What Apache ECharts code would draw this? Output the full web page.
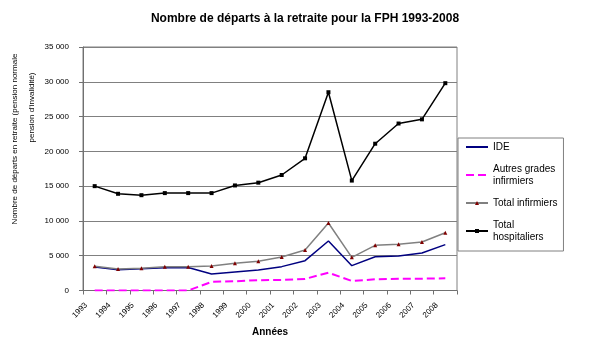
<!DOCTYPE html>
<html>
<head>
<meta charset="utf-8">
<script src="https://cdn.jsdelivr.net/npm/echarts@6/dist/echarts.min.js"></script>
<style>
  html, body { margin: 0; padding: 0; background: #ffffff; }
  #chart { width: 604px; height: 357px; }
</style>
</head>
<body>
<div id="chart"></div>
<script>
// ---- Data ----
var years = ['1993','1994','1995','1996','1997','1998','1999','2000','2001','2002','2003','2004','2005','2006','2007','2008'];
var ide = [3380, 2990, 3140, 3280, 3300, 2380, 2670, 2950, 3430, 4290, 7110, 3570, 4860, 4960, 5390, 6590];
var autresGrades = [0, 0, 0, 0, 0, 1240, 1330, 1480, 1520, 1670, 2560, 1370, 1610, 1700, 1700, 1750];
var totalInfirmiers = [3470, 3090, 3190, 3420, 3430, 3520, 3900, 4190, 4810, 5810, 9700, 4770, 6490, 6640, 6970, 8310];
var totalHospitaliers = [15000, 13900, 13700, 14000, 14000, 14000, 15100, 15500, 16600, 19000, 28500, 15800, 21100, 24000, 24600, 29800];
var seriesNames = ['IDE', 'Autres grades infirmiers', 'Total infirmiers', 'Total hospitaliers'];
var legendLabels = ['IDE', 'Autres grades\ninfirmiers', 'Total infirmiers', 'Total\nhospitaliers'];
var yMin = 0, yMax = 35000, yStep = 5000;
var titleText = 'Nombre de départs à la retraite pour la FPH 1993-2008';
var yTitleLine1 = 'Nombre de départs en retraite (pension normale';
var yTitleLine2 = "pension d'invalidité)";
var xTitle = 'Années';

var FONT = '"Liberation Sans", Arial, sans-serif';

function fmtThousands(v) {
  return String(v).replace(/\B(?=(\d{3})+(?!\d))/g, ' ');
}

var chart = echarts.init(document.getElementById('chart'), null, { renderer: 'canvas' });

var oneLinePad = { padding: [3, 0, 3, 0] };
var twoLinePad = { padding: [12, 0, 0, 0] };

var option = {
  backgroundColor: '#ffffff',
  animation: false,
  title: {
    text: titleText,
    left: 305,
    top: 13,
    padding: 0,
    textAlign: 'center',
    textStyle: { fontFamily: FONT, fontSize: 12, fontWeight: 'bold', color: '#000000' }
  },
  graphic: [
    {
      type: 'text', x: 14.5, y: 139, rotation: Math.PI / 2,
      style: { text: yTitleLine1, fontFamily: FONT, fontSize: 8, fill: '#000', align: 'center', verticalAlign: 'middle' }
    },
    {
      type: 'text', x: 31.5, y: 107.5, rotation: Math.PI / 2,
      style: { text: yTitleLine2, fontFamily: FONT, fontSize: 8, fill: '#000', align: 'center', verticalAlign: 'middle' }
    }
  ],
  legend: {
    orient: 'vertical',
    left: 458,
    top: 138,
    padding: [0, 6, 2, 7],
    itemGap: 1,
    itemWidth: 22,
    itemHeight: 5,
    borderColor: '#808080',
    borderWidth: 1,
    backgroundColor: '#ffffff',
    selectedMode: false,
    formatter: function (name) { return legendLabels[seriesNames.indexOf(name)]; },
    textStyle: { fontFamily: FONT, fontSize: 10, lineHeight: 12, color: '#000', backgroundColor: 'rgba(0,0,0,0)' },
    data: [
      { name: seriesNames[0], textStyle: oneLinePad, itemStyle: { color: 'transparent', borderWidth: 0 } },
      { name: seriesNames[1], textStyle: twoLinePad, itemStyle: { color: 'transparent', borderWidth: 0 } },
      { name: seriesNames[2], textStyle: oneLinePad },
      { name: seriesNames[3], textStyle: twoLinePad }
    ]
  },
  grid: {
    left: 83, right: 147, top: 47, bottom: 66.5,
    show: true, borderColor: '#808080', borderWidth: 1, backgroundColor: '#ffffff'
  },
  xAxis: {
    type: 'category',
    data: years,
    boundaryGap: true,
    name: xTitle,
    nameLocation: 'middle',
    nameGap: 37,
    nameTextStyle: { fontFamily: FONT, fontSize: 10, fontWeight: 'bold', color: '#000' },
    axisLine: { show: true, lineStyle: { color: '#707070', width: 1 } },
    axisTick: { show: true, length: 4, inside: false, lineStyle: { color: '#707070' } },
    axisLabel: { interval: 0, rotate: 45, margin: 5, padding: [0, 12, 0, 0], fontFamily: FONT, fontSize: 8, color: '#000' },
    splitLine: { show: false }
  },
  yAxis: {
    type: 'value',
    min: yMin, max: yMax, interval: yStep,
    axisLine: { show: true, lineStyle: { color: '#707070', width: 1 } },
    axisTick: { show: true, length: 4, inside: false, lineStyle: { color: '#707070' } },
    axisLabel: { margin: 14, fontFamily: FONT, fontSize: 8, color: '#000', formatter: fmtThousands },
    splitLine: { show: true, lineStyle: { color: '#808080', width: 1 } }
  },
  series: [
    {
      name: seriesNames[0], type: 'line', data: ide,
      symbol: 'none', showSymbol: false,
      lineStyle: { color: '#000080', width: 1.5 },
      itemStyle: { color: '#000080' }
    },
    {
      name: seriesNames[1], type: 'line', data: autresGrades,
      symbol: 'none', showSymbol: false,
      lineStyle: { color: '#FF00FF', width: 2, type: [8, 4] },
      itemStyle: { color: '#FF00FF' }
    },
    {
      name: seriesNames[2], type: 'line', data: totalInfirmiers,
      symbol: 'triangle', symbolSize: 4,
      lineStyle: { color: '#808080', width: 1.5 },
      itemStyle: { color: '#800000' }
    },
    {
      name: seriesNames[3], type: 'line', data: totalHospitaliers,
      symbol: 'rect', symbolSize: 4,
      lineStyle: { color: '#000000', width: 1.5 },
      itemStyle: { color: '#000000' }
    }
  ]
};

chart.setOption(option);
</script>
</body>
</html>
